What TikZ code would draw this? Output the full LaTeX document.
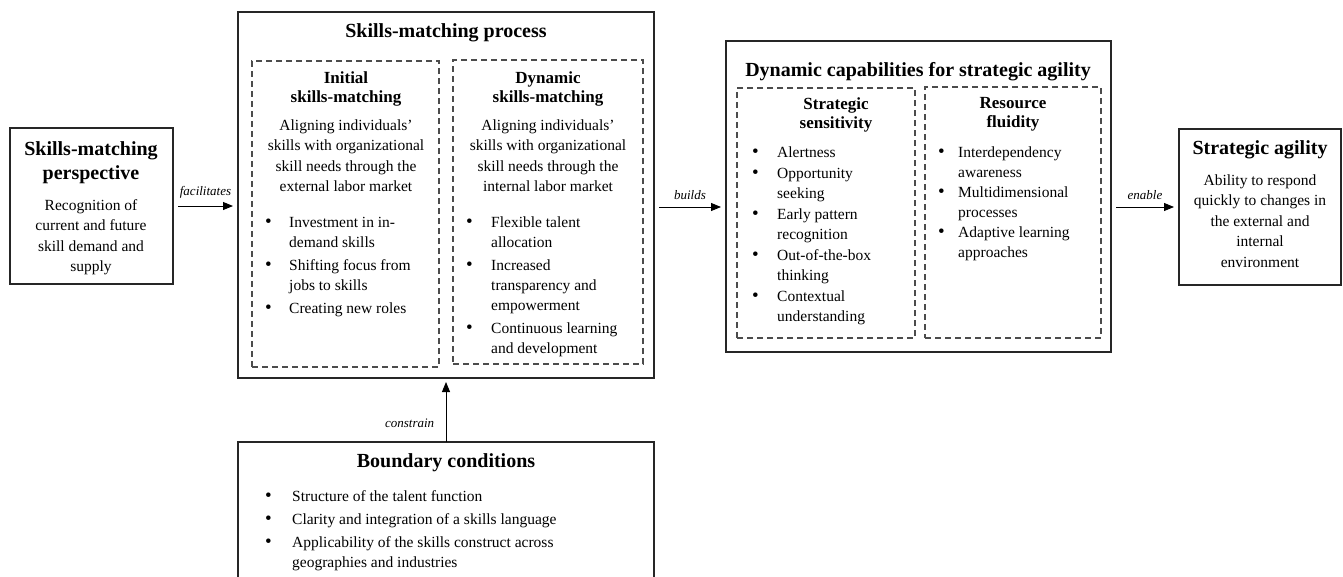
\documentclass[tikz,border=0pt]{standalone}
\usepackage{fontspec}
\setmainfont{Liberation Serif}
\usetikzlibrary{arrows.meta}

\newcommand{\bul}{{\fontsize{19}{19}\selectfont\textbullet}}

\tikzset{
  box/.style={draw=black!85, line width=1.1pt, inner sep=0pt, outer sep=0pt, anchor=north west},
  dbox/.style={draw=black!70, line width=1.1pt, dash pattern=on 6pt off 4pt, inner sep=0pt, outer sep=0pt, anchor=north west},
  ttl/.style={anchor=north, align=center, inner sep=0pt, font=\fontsize{20}{24}\selectfont\bfseries},
  sub/.style={anchor=north, align=center, inner sep=0pt, font=\fontsize{17}{19}\selectfont\bfseries},
  txt/.style={anchor=north, align=center, inner sep=0pt, font=\fontsize{15.5}{20.5}\selectfont},
  lst/.style={anchor=north west, inner sep=0pt, font=\fontsize{15.5}{20}\selectfont},
  flow/.style={-{Triangle[length=10pt,width=8pt]}, line width=0.9pt, shorten <=5pt, shorten >=5pt},
  lbl/.style={font=\fontsize{13}{15}\selectfont\itshape}
}

\begin{document}
\begin{tikzpicture}[x=1pt, y=-1pt]
    \useasboundingbox (0,0) rectangle (1343,576);
    \clip (0,0) rectangle (1343,576);

    % 外框
    \node[box, minimum width=163, minimum height=156] (persp) at (10,128) {};
    \node[box, minimum width=416, minimum height=366] (proc) at (238,12) {};
    \node[box, minimum width=385, minimum height=311] (dyn) at (726,41) {};
    \node[box, minimum width=162, minimum height=156] (agil) at (1179,129) {};
    \node[box, minimum width=416, minimum height=170] (bound) at (238,442) {};

    % 虚线框
    \node[dbox, minimum width=187, minimum height=306] (init) at (252,61) {};
    \node[dbox, minimum width=190, minimum height=304] (dynm) at (453,60) {};
    \node[dbox, minimum width=178, minimum height=250] (sens) at (737,88) {};
    \node[dbox, minimum width=176, minimum height=251] (fluid) at (925,87) {};

    % 左：视角
    \node[ttl] (perspT) at (91,141) {Skills-matching\\perspective};
    \node[txt] (perspB) at (91,199) {Recognition of\\current and future\\skill demand and\\supply};

    % 中：匹配过程
    \node[ttl] (procT) at (446,23) {Skills-matching process};
    \node[sub] (initT) at (346,71.5) {Initial\\skills-matching};
    \node[txt] (initB) at (346,119.5) {Aligning individuals’\\skills with organizational\\skill needs through the\\external labor market};
    \node[lst] (initL) at (265,213) {\begin{tabular}{@{}p{24pt}@{}p{165pt}@{}}
        \bul & Investment in in-\newline demand skills\\[3pt]
        \bul & Shifting focus from\newline jobs to skills\\[3pt]
        \bul & Creating new roles
      \end{tabular}};
    \node[sub] (dynmT) at (548,71.5) {Dynamic\\skills-matching};
    \node[txt] (dynmB) at (548,119.5) {Aligning individuals’\\skills with organizational\\skill needs through the\\internal labor market};
    \node[lst] (dynmL) at (466,213) {\begin{tabular}{@{}p{25pt}@{}p{165pt}@{}}
        \bul & Flexible talent\newline allocation\\[3pt]
        \bul & Increased\newline transparency and\newline empowerment\\[3pt]
        \bul & Continuous learning\newline and development
      \end{tabular}};

    % 动态能力
    \node[ttl] (dynT) at (918,62) {Dynamic capabilities for strategic agility};
    \node[sub] (sensT) at (836,97.5) {Strategic\\sensitivity};
    \node[lst] (sensL) at (752,143.5) {\begin{tabular}{@{}p{25pt}@{}p{145pt}@{}}
        \bul & Alertness\\[1pt]
        \bul & Opportunity\newline seeking\\[1pt]
        \bul & Early pattern\newline recognition\\[1pt]
        \bul & Out-of-the-box\newline thinking\\[1pt]
        \bul & Contextual\newline understanding
      \end{tabular}};
    \node[sub] (fluidT) at (1013,97.5) {Resource\\fluidity};
    \node[lst] (fluidL) at (938,143.5) {\begin{tabular}{@{}p{20pt}@{}p{145pt}@{}}
        \bul & Interdependency\newline awareness\\
        \bul & Multidimensional\newline processes\\
        \bul & Adaptive learning\newline approaches
      \end{tabular}};

    % 右：敏捷
    \node[ttl] (agilT) at (1260,140) {Strategic agility};
    \node[txt] (agilB) at (1260,174.5) {Ability to respond\\quickly to changes in\\the external and\\internal\\environment};

    % 下：边界条件
    \node[ttl] (boundT) at (446,453) {Boundary conditions};
    \node[lst] (boundL) at (265,487) {\begin{tabular}{@{}p{27pt}@{}p{340pt}@{}}
        \bul & Structure of the talent function\\[3pt]
        \bul & Clarity and integration of a skills language\\[3pt]
        \bul & Applicability of the skills construct across\newline geographies and industries
      \end{tabular}};

    % 箭头
    \draw[flow] (persp.east) -- (persp.east -| proc.west) node[midway, above=4pt, lbl] {facilitates};
    \draw[flow] (proc.east |- agil.west) -- (dyn.west |- agil.west) node[midway, above=4pt, lbl] {builds};
    \draw[flow] (dyn.east |- agil.west) -- (agil.west) node[midway, above=4pt, lbl] {enable};
    \draw[flow, shorten <=0pt, shorten >=4pt] (bound.north) -- (proc.south) node[pos=0.3, left=8pt, lbl] {constrain};
\end{tikzpicture}
\end{document}
